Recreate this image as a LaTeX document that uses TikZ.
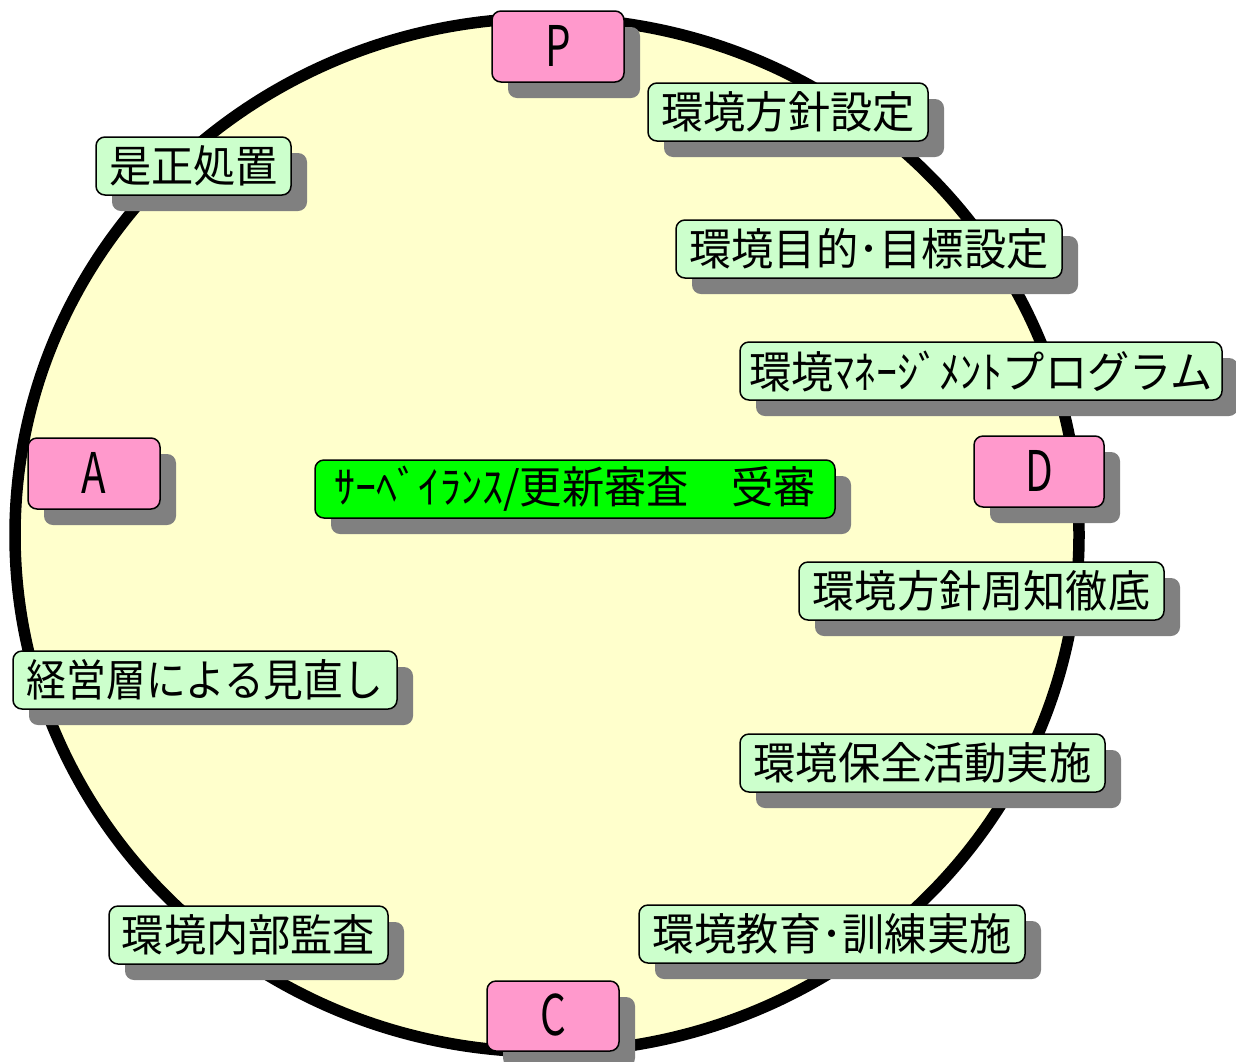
\documentclass[tikz,border=0pt]{standalone}
\usepackage{fontspec}
\newfontfamily\jp[FakeStretch=0.96]{Noto Sans CJK JP}
\newfontfamily\jpl[FakeStretch=0.72]{Noto Sans CJK JP}
\usetikzlibrary{shadows}
\definecolor{circfill}{HTML}{FFFFCC}
\definecolor{pinkfill}{HTML}{FF99CC}
\definecolor{greenfill}{HTML}{CCFFCC}
\definecolor{brightgreen}{HTML}{00FF00}
\definecolor{shgray}{HTML}{808080}
\begin{document}
\begin{tikzpicture}[x=1pt,y=-1pt,
  basebox/.style={draw=black, line width=1.5pt, rounded corners=9pt, inner sep=0pt,
    drop shadow={shadow xshift=16pt, shadow yshift=-16pt, fill=shgray, opacity=1}},
  phase/.style={basebox, fill=pinkfill, minimum height=71pt, minimum width=132pt,
    font=\jpl\fontsize{56}{60}\selectfont},
  task/.style={basebox, fill=greenfill, minimum height=58pt,
    font=\jp\fontsize{44}{50}\selectfont},
  mainbox/.style={basebox, fill=brightgreen, minimum height=58pt,
    font=\jp\fontsize{44}{50}\selectfont}]
\useasboundingbox (0,0) rectangle (1236,1061);
\draw[fill=circfill, line width=11.5pt] (547,535) ellipse [x radius=532, y radius=517];

\node[phase] (P) at (558,46.5) {\raisebox{2pt}{P}};
\node[phase] (A) at (94,473.5) {\raisebox{2pt}{A}};
\node[phase, minimum width=130pt] (D) at (1039,471.5) {\raisebox{2pt}{D}};
\node[phase, minimum height=70pt] (C) at (553,1016) {\raisebox{2pt}{C}};

\node[task, minimum width=280pt] (t1) at (788,112) {\raisebox{2pt}{環境方針設定}};
\node[task, minimum width=195pt] (t2) at (193.5,166) {\raisebox{2pt}{是正処置}};
\node[task, minimum width=386pt] (t3) at (869,249) {\raisebox{2pt}{環境目的･目標設定}};
\node[task, minimum width=482pt] (t4) at (981,371) {\raisebox{2pt}{環境ﾏﾈｰｼﾞﾒﾝﾄプログラム}};
\node[mainbox, minimum width=520pt] (m) at (575,489) {\raisebox{2pt}{ｻｰﾍﾞｲﾗﾝｽ/更新審査　受審}};
\node[task, minimum width=365pt] (t5) at (981.5,591) {\raisebox{2pt}{環境方針周知徹底}};
\node[task, minimum width=384pt] (t6) at (205,680) {\raisebox{2pt}{\scalebox{0.94}[1]{経営層による見直し}}};
\node[task, minimum width=365pt] (t7) at (922.5,763) {\raisebox{2pt}{環境保全活動実施}};
\node[task, minimum width=279pt] (t8) at (248.5,935) {\raisebox{2pt}{環境内部監査}};
\node[task, minimum width=386pt] (t9) at (832,934) {\raisebox{2pt}{環境教育･訓練実施}};
\end{tikzpicture}
\end{document}
